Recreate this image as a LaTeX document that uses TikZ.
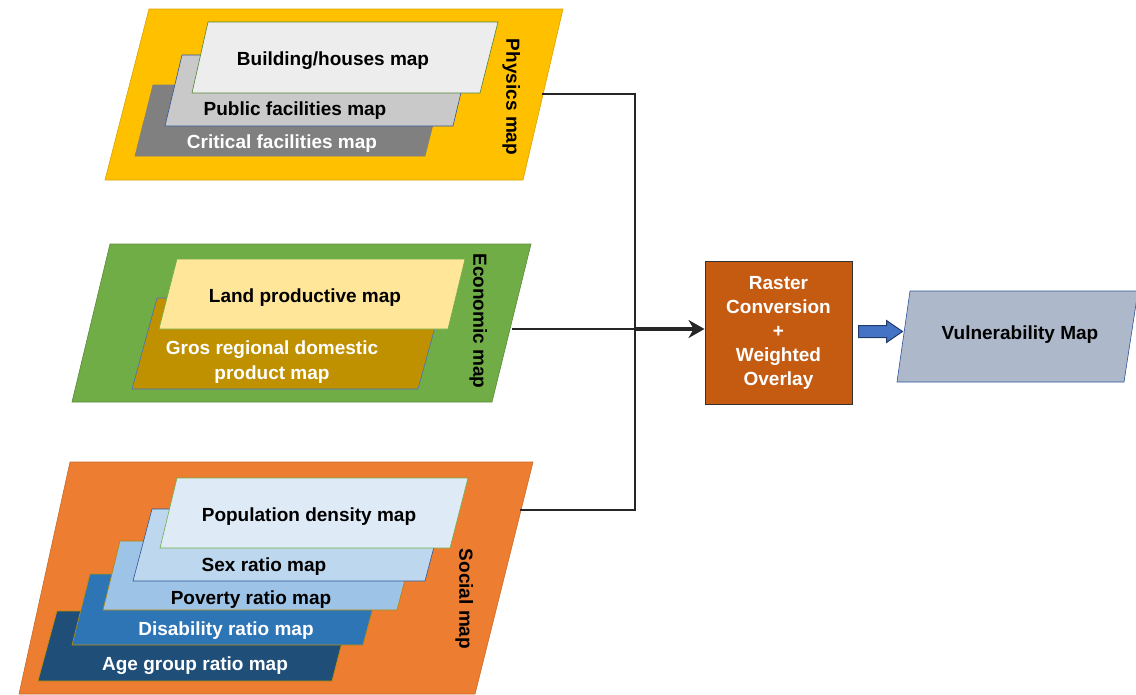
\documentclass[tikz,border=0pt]{standalone}
\usepackage{fontspec}
\setmainfont{Liberation Sans}
\usetikzlibrary{arrows.meta}

\definecolor{physyellow}{HTML}{FFC000}
\definecolor{econgreen}{HTML}{70AD47}
\definecolor{socorange}{HTML}{ED7D31}
\definecolor{linegreen}{HTML}{548235}
\definecolor{lineblue}{HTML}{2F5597}
\definecolor{linegold}{HTML}{BF9000}
\definecolor{rastbrown}{HTML}{C55A11}
\definecolor{vulngray}{HTML}{ADB9CA}
\definecolor{arrblue}{HTML}{4472C4}
\definecolor{landyellow}{HTML}{FFE699}
\definecolor{agenavy}{HTML}{1F4E79}
\definecolor{disblue}{HTML}{2E75B6}
\definecolor{povblue}{HTML}{9DC3E6}
\definecolor{sexblue}{HTML}{BDD7EE}
\definecolor{popblue}{HTML}{DEEBF7}

\begin{document}
\begin{tikzpicture}[x=1pt,y=-1pt,
  sheet/.style={line width=0.6pt},
  lbl/.style={font=\bfseries\fontsize{19}{24}\selectfont,inner sep=0pt,text height=13.5pt,text depth=0pt},
  side/.style={lbl,rotate=-90},
  wire/.style={line width=1.2pt,draw=black!85}]
  \useasboundingbox (0,0) rectangle (1136,694);

  % Physics map
  \filldraw[sheet,fill=physyellow,draw=physyellow!85!black] (149,9) -- (563,9) -- (523,180) -- (105,180) -- cycle;
  \filldraw[sheet,fill=black!50,draw=black!50] (153,85) -- (443,85) -- (425,156) -- (135,156) -- cycle;
  \filldraw[sheet,fill=black!21,draw=lineblue] (182,55) -- (470,55) -- (453,126) -- (165,126) -- cycle;
  \filldraw[sheet,fill=black!7,draw=linegreen] (208,22) -- (498,22) -- (480,93) -- (192,93) -- cycle;
  \node[lbl] (bld) at (333,59) {Building/houses map};
  \node[lbl] (pub) at (295,109) {Public facilities map};
  \node[lbl,text=white] (crit) at (282,142) {Critical facilities map};
  \node[side] (phys) at (513,97) {Physics map};

  % Economic map
  \filldraw[sheet,fill=econgreen,draw=econgreen!80!black] (110,244) -- (531,244) -- (492,402) -- (72,402) -- cycle;
  \filldraw[sheet,fill=linegold,draw=arrblue] (157,298) -- (443,298) -- (418,389) -- (132,389) -- cycle;
  \filldraw[sheet,fill=landyellow,draw=econgreen] (177,259) -- (465,259) -- (448,329) -- (159,329) -- cycle;
  \node[lbl] (land) at (305,296) {Land productive map};
  \node[font=\bfseries\fontsize{19}{25}\selectfont,text=white,align=center,inner sep=0pt] (gros) at (272,362) {Gros regional domestic\\product map};
  \node[side] (econ) at (480,321) {Economic map};

  % Social map
  \filldraw[sheet,fill=socorange,draw=socorange!85!black] (70,462) -- (533,462) -- (475,694) -- (19,694) -- cycle;
  \filldraw[sheet,fill=agenavy,draw=linegold] (57,611) -- (350,611) -- (332,681) -- (38,681) -- cycle;
  \filldraw[sheet,fill=disblue,draw=linegold] (90,574) -- (382,574) -- (363,645) -- (72,645) -- cycle;
  \filldraw[sheet,fill=povblue,draw=physyellow!70!black] (120,541) -- (415,541) -- (397,610) -- (103,610) -- cycle;
  \filldraw[sheet,fill=sexblue,draw=lineblue] (152,509) -- (444,509) -- (425,581) -- (133,581) -- cycle;
  \filldraw[sheet,fill=popblue,draw=econgreen] (177,478) -- (468,478) -- (450,548) -- (160,548) -- cycle;
  \node[lbl] (pop) at (309,515) {Population density map};
  \node[lbl] (sex) at (264,565) {Sex ratio map};
  \node[lbl] (pov) at (251,598) {Poverty ratio map};
  \node[lbl,text=white] (dis) at (226,629) {Disability ratio map};
  \node[lbl,text=white] (age) at (195,664) {Age group ratio map};
  \node[side] (soc) at (466,599) {Social map};

  % overlay and result
  \node[draw=black!80,line width=1pt,fill=rastbrown,text=white,align=center,
    font=\bfseries\fontsize{19}{24}\selectfont,minimum width=147pt,minimum height=143pt,inner sep=0pt]
    (overlay) at (778.5,332.5) {Raster\\Conversion\\+\\Weighted\\Overlay};
  \filldraw[sheet,fill=vulngray,draw=lineblue] (910,291) -- (1138,291) -- (1124,382) -- (897,382) -- cycle;
  \node[lbl] (vuln) at (1020,333) {Vulnerability Map};

  % connectors
  \coordinate (physout) at (542,94);
  \coordinate (econout) at (512,329);
  \coordinate (socout) at (520,510);
  \coordinate (junc) at (635,329);
  \draw[wire] (physout) -| (junc);
  \draw[wire] (socout) -| (junc);
  \draw[wire] (econout) -- (junc);
  \draw[line width=4pt,draw=black!85,-{Stealth[length=16pt,width=18pt]}] (junc) -- (overlay.west |- junc);
  \filldraw[line width=1pt,fill=arrblue,draw=lineblue!70!black]
    ([shift={(6,-7)}]overlay.east) -- ++(28,0) -- ++(0,-5) -- ++(16,11) -- ++(-16,11) -- ++(0,-5) -- ++(-28,0) -- cycle;
\end{tikzpicture}
\end{document}
